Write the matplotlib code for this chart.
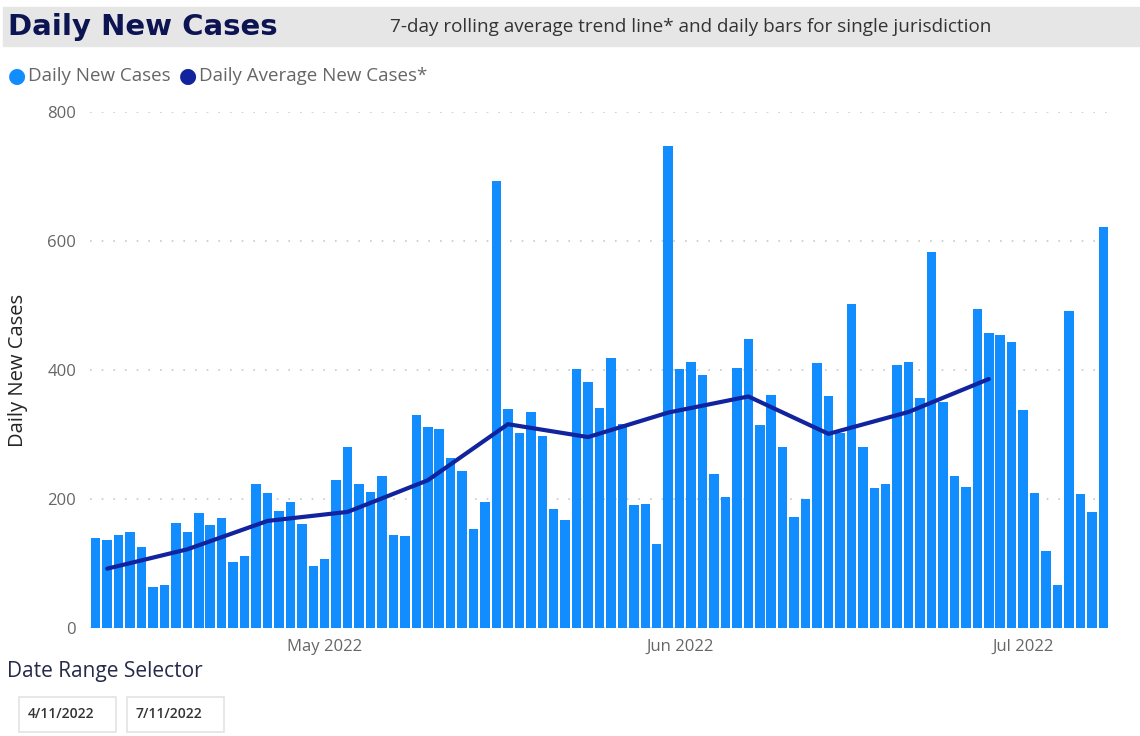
import matplotlib
matplotlib.use("Agg")
import matplotlib.pyplot as plt
import matplotlib.dates as mdates
from matplotlib.patches import Rectangle
import pandas as pd

# daily new cases, 4/11/2022 .. 7/8/2022
start_date = "2022-04-11"
daily_cases = [140, 136, 144, 149, 125, 64, 66, 163, 149, 178,
               160, 170, 102, 111, 223, 210, 181, 196, 162, 96,
               107, 230, 281, 224, 211, 235, 144, 143, 331, 312,
               309, 263, 243, 154, 196, 693, 340, 302, 335, 298,
               185, 167, 401, 381, 341, 419, 316, 190, 193, 130,
               747, 402, 413, 393, 239, 203, 403, 448, 315, 362,
               280, 172, 200, 411, 360, 303, 503, 280, 217, 224,
               407, 412, 356, 583, 351, 235, 218, 494, 457, 454,
               444, 338, 210, 119, 67, 492, 207, 180, 622]

# weekly points of the 7-day rolling average
avg_dates = ["2022-04-12", "2022-04-19", "2022-04-26", "2022-05-03",
             "2022-05-10", "2022-05-17", "2022-05-24", "2022-05-31",
             "2022-06-07", "2022-06-14", "2022-06-21", "2022-06-28"]
avg_cases = [92, 122, 166, 180, 229, 316, 296, 334, 359, 301, 335, 386]

month_ticks = ["2022-05-01", "2022-06-01", "2022-07-01"]
month_labels = ["May 2022", "Jun 2022", "Jul 2022"]
y_ticks = [0, 200, 400, 600, 800]
range_from = "4/11/2022"
range_to = "7/11/2022"

bar_color = "#118DFF"
line_color = "#12239E"
ui_font = "Open Sans"

dates = pd.date_range(start_date, periods=len(daily_cases), freq="D")
x = mdates.date2num(dates)
x_avg = mdates.date2num(pd.to_datetime(avg_dates))
x_ticks = mdates.date2num(pd.to_datetime(month_ticks))

fig = plt.figure(figsize=(11.4, 7.36), dpi=100)
ax = fig.add_axes([90 / 1140, 1 - 628 / 736, (1109 - 90) / 1140, (628 - 112) / 736])

ax.bar(x, daily_cases, width=0.83, color=bar_color, zorder=2)
ax.plot(x_avg, avg_cases, color=line_color, linewidth=3, solid_capstyle="round", zorder=3)

ax.set_xlim(x[0] - 0.5, x[-1] + 0.5)
ax.set_ylim(0, 800)
ax.set_yticks(y_ticks)
ax.set_yticklabels([str(v) for v in y_ticks], fontsize=12, color="#666666", family=ui_font)
ax.set_xticks(x_ticks)
ax.set_xticklabels(month_labels, fontsize=12, color="#666666", family=ui_font)
ax.tick_params(length=0, pad=8)
ax.tick_params(axis="y", pad=10)
for s in ax.spines.values():
    s.set_visible(False)
ax.grid(axis="y", color="#c8c8c8", linestyle=(0, (1, 6)), linewidth=1.2, zorder=1)
ax.set_ylabel("Daily New Cases", fontsize=14.5, color="#252423", family=ui_font)
ax.yaxis.set_label_coords(-62 / 1019, 0.5)

# title bar
fig.patches.append(Rectangle((3 / 1140, 1 - 46 / 736), 1, 39 / 736,
                             transform=fig.transFigure, color="#e6e6e6", zorder=0))
fig.text(8 / 1140, 1 - 27 / 736, "Daily New Cases", fontsize=21, fontweight="bold",
         color="#0d1452", va="center", ha="left", family="DejaVu Sans")
fig.text(390 / 1140, 1 - 27 / 736,
         "7-day rolling average trend line* and daily bars for single jurisdiction",
         fontsize=13.6, color="#333333", va="center", ha="left", family=ui_font)

# legend
fig.text(17 / 1140, 1 - 76 / 736, "\u25CF", fontsize=15, color=bar_color, va="center", ha="center")
fig.text(28 / 1140, 1 - 76 / 736, "Daily New Cases", fontsize=13.5, color="#666666",
         va="center", ha="left", family=ui_font)
fig.text(188 / 1140, 1 - 76 / 736, "\u25CF", fontsize=15, color=line_color, va="center", ha="center")
fig.text(199 / 1140, 1 - 76 / 736, "Daily Average New Cases*", fontsize=13.5, color="#666666",
         va="center", ha="left", family=ui_font)

# date range selector
fig.text(7 / 1140, 1 - 672 / 736, "Date Range Selector", fontsize=15, color="#252a4a",
         va="center", ha="left", family=ui_font)
for left, label in [(19, range_from), (127, range_to)]:
    fig.patches.append(Rectangle((left / 1140, 1 - 732 / 736), 97 / 1140, 35 / 736,
                                 transform=fig.transFigure, facecolor="white",
                                 edgecolor="#e3e3e3", linewidth=1.2))
    fig.text((left + 9) / 1140, 1 - 714 / 736, label, fontsize=10, color="#333333",
             fontweight="semibold", va="center", ha="left", family=ui_font)

fig.savefig("out.png", dpi=100)
